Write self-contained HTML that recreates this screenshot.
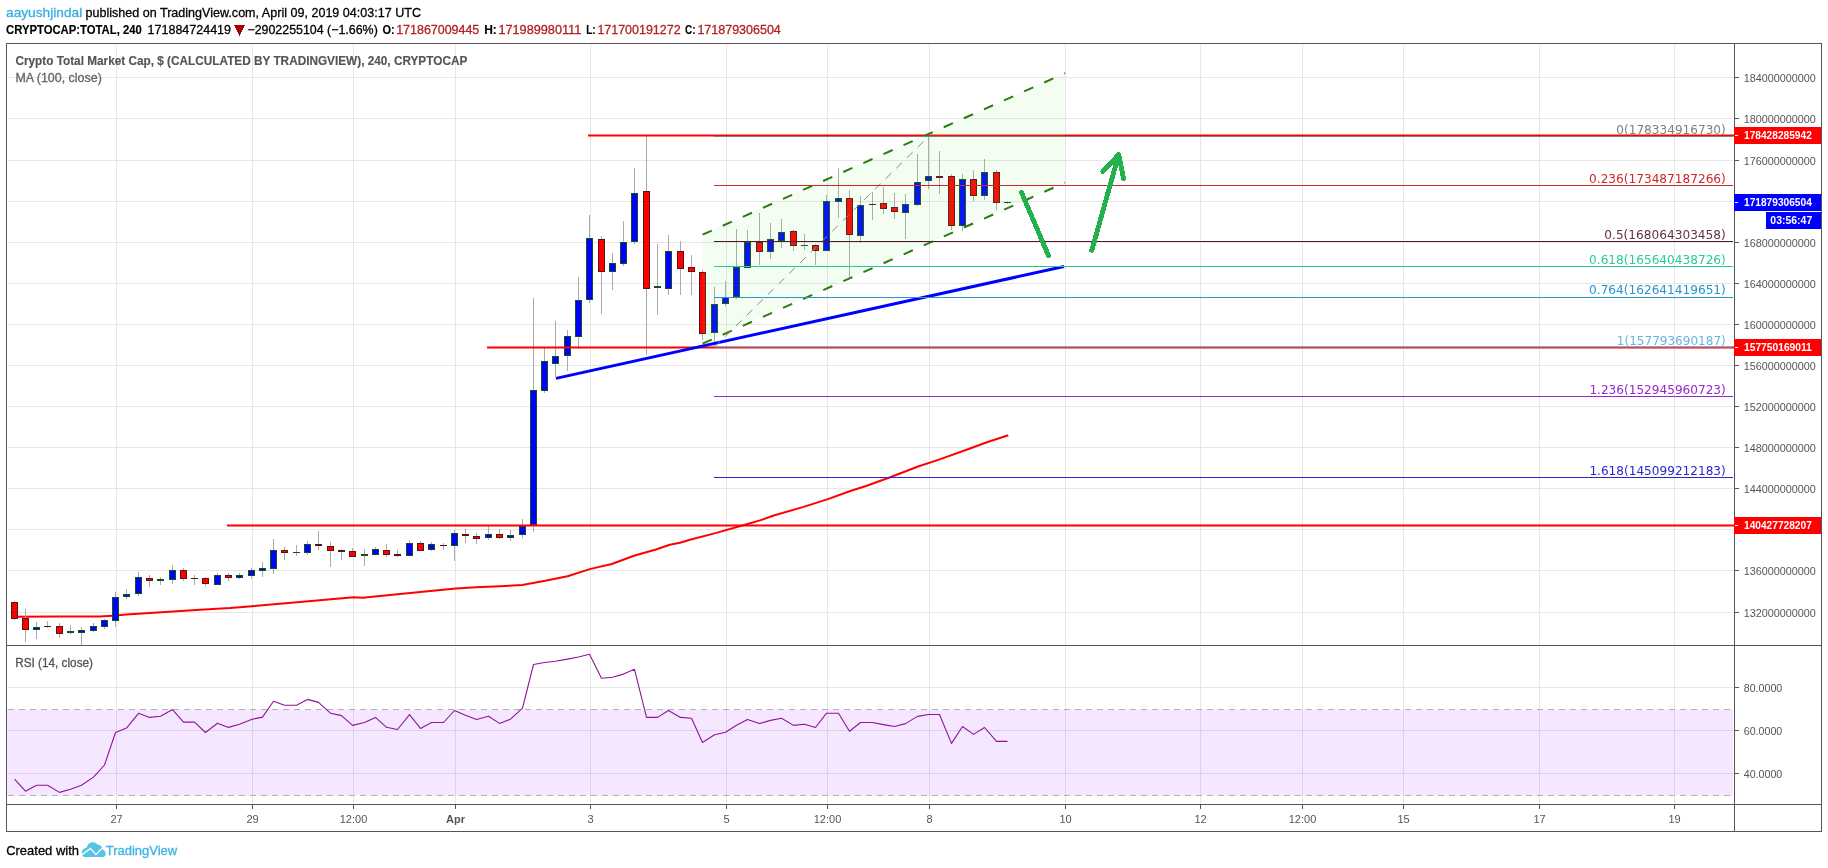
<!DOCTYPE html>
<html lang="en"><head><meta charset="utf-8"><title>CRYPTOCAP:TOTAL 240 - TradingView snapshot</title>
<style>html,body{margin:0;padding:0;background:#fff}body{width:1828px;height:868px;overflow:hidden}svg{display:block;will-change:transform}text{font-family:"Liberation Sans", Arial, sans-serif;white-space:pre}.ax{font-size:11px;fill:#555555}.lb{font-size:11px;font-weight:bold;fill:#fff}.fib{font-family:"DejaVu Sans", Verdana, "Liberation Sans", sans-serif;font-size:12px}.hd{font-size:13px;fill:#000;stroke:#000;stroke-width:.3px}.b{font-weight:bold;stroke-width:.15px}.rd{fill:#b22222;stroke:#b22222}.h1{font-size:13.5px}.h2{font-size:12.5px}.lg{font-size:12px}</style></head><body>
<svg width="1828" height="868" viewBox="0 0 1828 868">
<rect width="1828" height="868" fill="#ffffff"/>
<text x="6.0" y="17.0" class="hd h1" textLength="76.3" lengthAdjust="spacingAndGlyphs" style="fill:#37aee2;stroke:#37aee2">aayushjindal</text>
<text x="85.5" y="17.0" class="hd h1" textLength="335.5" lengthAdjust="spacingAndGlyphs">published on TradingView.com, April 09, 2019 04:03:17 UTC</text>
<text x="6.0" y="33.6" class="hd b h2" textLength="135.8" lengthAdjust="spacingAndGlyphs">CRYPTOCAP:TOTAL, 240</text>
<text x="147.6" y="33.6" class="hd h2" textLength="83.4" lengthAdjust="spacingAndGlyphs">171884724419</text>
<path d="M234 25H245L239.5 36Z" fill="#aa0000" shape-rendering="crispEdges"/>
<text x="247.4" y="33.6" class="hd h2" textLength="130.4" lengthAdjust="spacingAndGlyphs">−2902255104 (−1.66%)</text>
<text x="382.4" y="33.6" class="hd b h2" textLength="12.2" lengthAdjust="spacingAndGlyphs">O:</text>
<text x="396.2" y="33.6" class="hd rd h2" textLength="83.1" lengthAdjust="spacingAndGlyphs">171867009445</text>
<text x="484.2" y="33.6" class="hd b h2" textLength="12.6" lengthAdjust="spacingAndGlyphs">H:</text>
<text x="498.4" y="33.6" class="hd rd h2" textLength="82.9" lengthAdjust="spacingAndGlyphs">171989980111</text>
<text x="586.2" y="33.6" class="hd b h2" textLength="9.5" lengthAdjust="spacingAndGlyphs">L:</text>
<text x="597.4" y="33.6" class="hd rd h2" textLength="83.2" lengthAdjust="spacingAndGlyphs">171700191272</text>
<text x="685.0" y="33.6" class="hd b h2" textLength="10.5" lengthAdjust="spacingAndGlyphs">C:</text>
<text x="697.4" y="33.6" class="hd rd h2" textLength="83.4" lengthAdjust="spacingAndGlyphs">171879306504</text>
<g stroke="#e6e6e6" stroke-width="1" shape-rendering="crispEdges">
<line x1="116.5" y1="45" x2="116.5" y2="645"/>
<line x1="116.5" y1="647" x2="116.5" y2="804"/>
<line x1="252.5" y1="45" x2="252.5" y2="645"/>
<line x1="252.5" y1="647" x2="252.5" y2="804"/>
<line x1="353.5" y1="45" x2="353.5" y2="645"/>
<line x1="353.5" y1="647" x2="353.5" y2="804"/>
<line x1="455.5" y1="45" x2="455.5" y2="645"/>
<line x1="455.5" y1="647" x2="455.5" y2="804"/>
<line x1="590.5" y1="45" x2="590.5" y2="645"/>
<line x1="590.5" y1="647" x2="590.5" y2="804"/>
<line x1="726.5" y1="45" x2="726.5" y2="645"/>
<line x1="726.5" y1="647" x2="726.5" y2="804"/>
<line x1="827.5" y1="45" x2="827.5" y2="645"/>
<line x1="827.5" y1="647" x2="827.5" y2="804"/>
<line x1="929.5" y1="45" x2="929.5" y2="645"/>
<line x1="929.5" y1="647" x2="929.5" y2="804"/>
<line x1="1065.5" y1="45" x2="1065.5" y2="645"/>
<line x1="1065.5" y1="647" x2="1065.5" y2="804"/>
<line x1="1200.5" y1="45" x2="1200.5" y2="645"/>
<line x1="1200.5" y1="647" x2="1200.5" y2="804"/>
<line x1="1302.5" y1="45" x2="1302.5" y2="645"/>
<line x1="1302.5" y1="647" x2="1302.5" y2="804"/>
<line x1="1403.5" y1="45" x2="1403.5" y2="645"/>
<line x1="1403.5" y1="647" x2="1403.5" y2="804"/>
<line x1="1539.5" y1="45" x2="1539.5" y2="645"/>
<line x1="1539.5" y1="647" x2="1539.5" y2="804"/>
<line x1="1674.5" y1="45" x2="1674.5" y2="645"/>
<line x1="1674.5" y1="647" x2="1674.5" y2="804"/>
<line x1="8" y1="77.5" x2="1733" y2="77.5"/>
<line x1="8" y1="118.5" x2="1733" y2="118.5"/>
<line x1="8" y1="160.5" x2="1733" y2="160.5"/>
<line x1="8" y1="201.5" x2="1733" y2="201.5"/>
<line x1="8" y1="242.5" x2="1733" y2="242.5"/>
<line x1="8" y1="283.5" x2="1733" y2="283.5"/>
<line x1="8" y1="324.5" x2="1733" y2="324.5"/>
<line x1="8" y1="365.5" x2="1733" y2="365.5"/>
<line x1="8" y1="406.5" x2="1733" y2="406.5"/>
<line x1="8" y1="447.5" x2="1733" y2="447.5"/>
<line x1="8" y1="488.5" x2="1733" y2="488.5"/>
<line x1="8" y1="529.5" x2="1733" y2="529.5"/>
<line x1="8" y1="570.5" x2="1733" y2="570.5"/>
<line x1="8" y1="612.5" x2="1733" y2="612.5"/>
<line x1="8" y1="687.5" x2="1733" y2="687.5"/>
<line x1="8" y1="730.5" x2="1733" y2="730.5"/>
<line x1="8" y1="773.5" x2="1733" y2="773.5"/>
</g>
<polyline points="14.5,616.7 60.0,616.6 100.0,616.5 116.0,615.4 126.0,614.5 150.0,613.0 200.0,609.8 230.0,608.1 252.0,606.2 300.0,602.0 353.7,597.2 362.7,597.7 400.0,594.0 455.8,588.5 476.0,587.2 500.0,586.2 522.0,585.0 544.0,581.0 567.5,576.2 590.6,568.9 611.8,564.0 633.9,555.7 656.0,549.5 669.8,544.7 680.0,542.8 690.0,539.8 715.3,533.1 741.4,525.7 760.0,520.4 773.0,515.8 802.8,507.1 827.9,499.1 851.1,490.7 866.0,486.0 890.2,477.3 918.1,466.5 940.4,459.1 966.5,449.8 986.9,442.3 1008.3,435.3" fill="none" stroke="#ff0000" stroke-width="2" stroke-linejoin="round"/>
<g shape-rendering="crispEdges">
<g stroke="#aaaaaa" stroke-width="1">
<line x1="14.5" y1="601" x2="14.5" y2="620"/>
<line x1="25.5" y1="609" x2="25.5" y2="642"/>
<line x1="36.5" y1="622" x2="36.5" y2="639"/>
<line x1="47.5" y1="621" x2="47.5" y2="628"/>
<line x1="59.5" y1="623" x2="59.5" y2="638"/>
<line x1="70.5" y1="625" x2="70.5" y2="634"/>
<line x1="81.5" y1="627" x2="81.5" y2="645"/>
<line x1="93.5" y1="623" x2="93.5" y2="632"/>
<line x1="104.5" y1="619" x2="104.5" y2="629"/>
<line x1="115.5" y1="592" x2="115.5" y2="627"/>
<line x1="126.5" y1="589" x2="126.5" y2="599"/>
<line x1="138.5" y1="572" x2="138.5" y2="596"/>
<line x1="149.5" y1="575" x2="149.5" y2="587"/>
<line x1="160.5" y1="577" x2="160.5" y2="585"/>
<line x1="172.5" y1="565" x2="172.5" y2="584"/>
<line x1="183.5" y1="568" x2="183.5" y2="581"/>
<line x1="194.5" y1="575" x2="194.5" y2="585"/>
<line x1="205.5" y1="577" x2="205.5" y2="586"/>
<line x1="217.5" y1="573" x2="217.5" y2="585"/>
<line x1="228.5" y1="573" x2="228.5" y2="581"/>
<line x1="239.5" y1="573" x2="239.5" y2="579"/>
<line x1="251.5" y1="568" x2="251.5" y2="579"/>
<line x1="262.5" y1="562" x2="262.5" y2="577"/>
<line x1="273.5" y1="539" x2="273.5" y2="574"/>
<line x1="284.5" y1="547" x2="284.5" y2="560"/>
<line x1="296.5" y1="545" x2="296.5" y2="556"/>
<line x1="307.5" y1="541" x2="307.5" y2="555"/>
<line x1="318.5" y1="531" x2="318.5" y2="550"/>
<line x1="330.5" y1="542" x2="330.5" y2="567"/>
<line x1="341.5" y1="549" x2="341.5" y2="560"/>
<line x1="352.5" y1="548" x2="352.5" y2="557"/>
<line x1="364.5" y1="549" x2="364.5" y2="566"/>
<line x1="375.5" y1="547" x2="375.5" y2="555"/>
<line x1="386.5" y1="544" x2="386.5" y2="557"/>
<line x1="397.5" y1="550" x2="397.5" y2="557"/>
<line x1="409.5" y1="540" x2="409.5" y2="556"/>
<line x1="420.5" y1="541" x2="420.5" y2="551"/>
<line x1="431.5" y1="542" x2="431.5" y2="551"/>
<line x1="443.5" y1="543" x2="443.5" y2="550"/>
<line x1="454.5" y1="530" x2="454.5" y2="561"/>
<line x1="465.5" y1="529" x2="465.5" y2="543"/>
<line x1="476.5" y1="533" x2="476.5" y2="544"/>
<line x1="488.5" y1="526" x2="488.5" y2="540"/>
<line x1="499.5" y1="529" x2="499.5" y2="539"/>
<line x1="510.5" y1="530" x2="510.5" y2="541"/>
<line x1="522.5" y1="519" x2="522.5" y2="538"/>
<line x1="533.5" y1="298" x2="533.5" y2="532"/>
<line x1="544.5" y1="348" x2="544.5" y2="393"/>
<line x1="555.5" y1="321" x2="555.5" y2="377"/>
<line x1="567.5" y1="330" x2="567.5" y2="371"/>
<line x1="578.5" y1="277" x2="578.5" y2="349"/>
<line x1="589.5" y1="215" x2="589.5" y2="303"/>
<line x1="601.5" y1="236" x2="601.5" y2="314"/>
<line x1="612.5" y1="253" x2="612.5" y2="290"/>
<line x1="623.5" y1="221" x2="623.5" y2="266"/>
<line x1="634.5" y1="168" x2="634.5" y2="244"/>
<line x1="646.5" y1="136" x2="646.5" y2="355"/>
<line x1="657.5" y1="244" x2="657.5" y2="315"/>
<line x1="668.5" y1="235" x2="668.5" y2="295"/>
<line x1="680.5" y1="241" x2="680.5" y2="295"/>
<line x1="691.5" y1="255" x2="691.5" y2="295"/>
<line x1="702.5" y1="270" x2="702.5" y2="340"/>
<line x1="714.5" y1="287" x2="714.5" y2="346"/>
<line x1="725.5" y1="281" x2="725.5" y2="306"/>
<line x1="736.5" y1="229" x2="736.5" y2="299"/>
<line x1="747.5" y1="230" x2="747.5" y2="268"/>
<line x1="759.5" y1="213" x2="759.5" y2="265"/>
<line x1="770.5" y1="223" x2="770.5" y2="259"/>
<line x1="781.5" y1="219" x2="781.5" y2="248"/>
<line x1="793.5" y1="230" x2="793.5" y2="251"/>
<line x1="804.5" y1="234" x2="804.5" y2="250"/>
<line x1="815.5" y1="244" x2="815.5" y2="265"/>
<line x1="826.5" y1="195" x2="826.5" y2="251"/>
<line x1="838.5" y1="168" x2="838.5" y2="218"/>
<line x1="849.5" y1="190" x2="849.5" y2="278"/>
<line x1="860.5" y1="196" x2="860.5" y2="243"/>
<line x1="872.5" y1="192" x2="872.5" y2="220"/>
<line x1="883.5" y1="187" x2="883.5" y2="214"/>
<line x1="894.5" y1="193" x2="894.5" y2="219"/>
<line x1="905.5" y1="194" x2="905.5" y2="239"/>
<line x1="917.5" y1="154" x2="917.5" y2="206"/>
<line x1="928.5" y1="137" x2="928.5" y2="189"/>
<line x1="939.5" y1="151" x2="939.5" y2="194"/>
<line x1="951.5" y1="174" x2="951.5" y2="230"/>
<line x1="962.5" y1="174" x2="962.5" y2="231"/>
<line x1="973.5" y1="170" x2="973.5" y2="201"/>
<line x1="984.5" y1="159" x2="984.5" y2="200"/>
<line x1="996.5" y1="170" x2="996.5" y2="210"/>
<line x1="1007.5" y1="201" x2="1007.5" y2="204"/>
</g>
<rect x="11.5" y="602.5" width="6" height="16" fill="#ff0000" stroke="#5b1212" stroke-width="1"/>
<rect x="22.5" y="618.5" width="6" height="11" fill="#ff0000" stroke="#5b1212" stroke-width="1"/>
<rect x="33.5" y="627.5" width="6" height="2" fill="#0000ff" stroke="#14501e" stroke-width="1"/>
<rect x="44.0" y="626" width="7" height="1" fill="#5b1212"/>
<rect x="56.5" y="626.5" width="6" height="7" fill="#ff0000" stroke="#5b1212" stroke-width="1"/>
<rect x="67.0" y="631" width="7" height="2" fill="#14501e"/>
<rect x="78.5" y="630.5" width="6" height="2" fill="#0000ff" stroke="#14501e" stroke-width="1"/>
<rect x="90.5" y="626.5" width="6" height="4" fill="#0000ff" stroke="#14501e" stroke-width="1"/>
<rect x="101.5" y="620.5" width="6" height="6" fill="#0000ff" stroke="#14501e" stroke-width="1"/>
<rect x="112.5" y="597.5" width="6" height="23" fill="#0000ff" stroke="#14501e" stroke-width="1"/>
<rect x="123.5" y="594.5" width="6" height="2" fill="#0000ff" stroke="#14501e" stroke-width="1"/>
<rect x="135.5" y="577.5" width="6" height="16" fill="#0000ff" stroke="#14501e" stroke-width="1"/>
<rect x="146.5" y="578.5" width="6" height="2" fill="#ff0000" stroke="#5b1212" stroke-width="1"/>
<rect x="157.0" y="579" width="7" height="2" fill="#14501e"/>
<rect x="169.5" y="570.5" width="6" height="9" fill="#0000ff" stroke="#14501e" stroke-width="1"/>
<rect x="180.5" y="570.5" width="6" height="8" fill="#ff0000" stroke="#5b1212" stroke-width="1"/>
<rect x="191.0" y="578" width="7" height="1" fill="#5b1212"/>
<rect x="202.5" y="578.5" width="6" height="5" fill="#ff0000" stroke="#5b1212" stroke-width="1"/>
<rect x="214.5" y="575.5" width="6" height="9" fill="#0000ff" stroke="#14501e" stroke-width="1"/>
<rect x="225.5" y="575.5" width="6" height="2" fill="#ff0000" stroke="#5b1212" stroke-width="1"/>
<rect x="236.5" y="575.5" width="6" height="2" fill="#0000ff" stroke="#14501e" stroke-width="1"/>
<rect x="248.5" y="570.5" width="6" height="5" fill="#0000ff" stroke="#14501e" stroke-width="1"/>
<rect x="259.5" y="568.5" width="6" height="2" fill="#0000ff" stroke="#14501e" stroke-width="1"/>
<rect x="270.5" y="550.5" width="6" height="18" fill="#0000ff" stroke="#14501e" stroke-width="1"/>
<rect x="281.5" y="550.5" width="6" height="2" fill="#ff0000" stroke="#5b1212" stroke-width="1"/>
<rect x="293.0" y="552" width="7" height="1" fill="#14501e"/>
<rect x="304.5" y="544.5" width="6" height="8" fill="#0000ff" stroke="#14501e" stroke-width="1"/>
<rect x="315.0" y="544" width="7" height="2" fill="#5b1212"/>
<rect x="327.5" y="546.5" width="6" height="4" fill="#ff0000" stroke="#5b1212" stroke-width="1"/>
<rect x="338.0" y="550" width="7" height="2" fill="#5b1212"/>
<rect x="349.5" y="551.5" width="6" height="5" fill="#ff0000" stroke="#5b1212" stroke-width="1"/>
<rect x="361.0" y="554" width="7" height="2" fill="#14501e"/>
<rect x="372.5" y="549.5" width="6" height="5" fill="#0000ff" stroke="#14501e" stroke-width="1"/>
<rect x="383.5" y="550.5" width="6" height="4" fill="#ff0000" stroke="#5b1212" stroke-width="1"/>
<rect x="394.0" y="554" width="7" height="2" fill="#5b1212"/>
<rect x="406.5" y="543.5" width="6" height="12" fill="#0000ff" stroke="#14501e" stroke-width="1"/>
<rect x="417.5" y="543.5" width="6" height="7" fill="#ff0000" stroke="#5b1212" stroke-width="1"/>
<rect x="428.5" y="544.5" width="6" height="5" fill="#0000ff" stroke="#14501e" stroke-width="1"/>
<rect x="440.0" y="545" width="7" height="1" fill="#5b1212"/>
<rect x="451.5" y="533.5" width="6" height="12" fill="#0000ff" stroke="#14501e" stroke-width="1"/>
<rect x="462.0" y="534" width="7" height="2" fill="#5b1212"/>
<rect x="473.5" y="536.5" width="6" height="2" fill="#ff0000" stroke="#5b1212" stroke-width="1"/>
<rect x="485.5" y="534.5" width="6" height="3" fill="#0000ff" stroke="#14501e" stroke-width="1"/>
<rect x="496.5" y="534.5" width="6" height="3" fill="#ff0000" stroke="#5b1212" stroke-width="1"/>
<rect x="507.5" y="535.5" width="6" height="2" fill="#0000ff" stroke="#14501e" stroke-width="1"/>
<rect x="519.5" y="526.5" width="6" height="8" fill="#0000ff" stroke="#14501e" stroke-width="1"/>
<rect x="530.5" y="390.5" width="6" height="134" fill="#0000ff" stroke="#14501e" stroke-width="1"/>
<rect x="541.5" y="361.5" width="6" height="29" fill="#0000ff" stroke="#14501e" stroke-width="1"/>
<rect x="552.5" y="356.5" width="6" height="7" fill="#0000ff" stroke="#14501e" stroke-width="1"/>
<rect x="564.5" y="336.5" width="6" height="19" fill="#0000ff" stroke="#14501e" stroke-width="1"/>
<rect x="575.5" y="300.5" width="6" height="36" fill="#0000ff" stroke="#14501e" stroke-width="1"/>
<rect x="586.5" y="238.5" width="6" height="61" fill="#0000ff" stroke="#14501e" stroke-width="1"/>
<rect x="598.5" y="239.5" width="6" height="32" fill="#ff0000" stroke="#5b1212" stroke-width="1"/>
<rect x="609.5" y="263.5" width="6" height="8" fill="#0000ff" stroke="#14501e" stroke-width="1"/>
<rect x="620.5" y="242.5" width="6" height="21" fill="#0000ff" stroke="#14501e" stroke-width="1"/>
<rect x="631.5" y="193.5" width="6" height="48" fill="#0000ff" stroke="#14501e" stroke-width="1"/>
<rect x="643.5" y="191.5" width="6" height="97" fill="#ff0000" stroke="#5b1212" stroke-width="1"/>
<rect x="654.0" y="286" width="7" height="2" fill="#14501e"/>
<rect x="665.5" y="251.5" width="6" height="37" fill="#0000ff" stroke="#14501e" stroke-width="1"/>
<rect x="677.5" y="251.5" width="6" height="17" fill="#ff0000" stroke="#5b1212" stroke-width="1"/>
<rect x="688.5" y="267.5" width="6" height="4" fill="#ff0000" stroke="#5b1212" stroke-width="1"/>
<rect x="699.5" y="272.5" width="6" height="61" fill="#ff0000" stroke="#5b1212" stroke-width="1"/>
<rect x="711.5" y="304.5" width="6" height="28" fill="#0000ff" stroke="#14501e" stroke-width="1"/>
<rect x="722.5" y="297.5" width="6" height="6" fill="#0000ff" stroke="#14501e" stroke-width="1"/>
<rect x="733.5" y="267.5" width="6" height="29" fill="#0000ff" stroke="#14501e" stroke-width="1"/>
<rect x="744.5" y="242.5" width="6" height="25" fill="#0000ff" stroke="#14501e" stroke-width="1"/>
<rect x="756.5" y="242.5" width="6" height="9" fill="#ff0000" stroke="#5b1212" stroke-width="1"/>
<rect x="767.5" y="239.5" width="6" height="12" fill="#0000ff" stroke="#14501e" stroke-width="1"/>
<rect x="778.5" y="232.5" width="6" height="8" fill="#0000ff" stroke="#14501e" stroke-width="1"/>
<rect x="790.5" y="231.5" width="6" height="14" fill="#ff0000" stroke="#5b1212" stroke-width="1"/>
<rect x="801.0" y="245" width="7" height="1" fill="#14501e"/>
<rect x="812.5" y="245.5" width="6" height="5" fill="#ff0000" stroke="#5b1212" stroke-width="1"/>
<rect x="823.5" y="201.5" width="6" height="49" fill="#0000ff" stroke="#14501e" stroke-width="1"/>
<rect x="835.5" y="198.5" width="6" height="3" fill="#0000ff" stroke="#14501e" stroke-width="1"/>
<rect x="846.5" y="198.5" width="6" height="36" fill="#ff0000" stroke="#5b1212" stroke-width="1"/>
<rect x="857.5" y="205.5" width="6" height="30" fill="#0000ff" stroke="#14501e" stroke-width="1"/>
<rect x="869.0" y="204" width="7" height="1" fill="#5b1212"/>
<rect x="880.5" y="203.5" width="6" height="5" fill="#ff0000" stroke="#5b1212" stroke-width="1"/>
<rect x="891.5" y="207.5" width="6" height="4" fill="#ff0000" stroke="#5b1212" stroke-width="1"/>
<rect x="902.5" y="204.5" width="6" height="8" fill="#0000ff" stroke="#14501e" stroke-width="1"/>
<rect x="914.5" y="182.5" width="6" height="22" fill="#0000ff" stroke="#14501e" stroke-width="1"/>
<rect x="925.5" y="176.5" width="6" height="4" fill="#0000ff" stroke="#14501e" stroke-width="1"/>
<rect x="936.0" y="176" width="7" height="2" fill="#5b1212"/>
<rect x="948.5" y="176.5" width="6" height="49" fill="#ff0000" stroke="#5b1212" stroke-width="1"/>
<rect x="959.5" y="179.5" width="6" height="46" fill="#0000ff" stroke="#14501e" stroke-width="1"/>
<rect x="970.5" y="179.5" width="6" height="16" fill="#ff0000" stroke="#5b1212" stroke-width="1"/>
<rect x="981.5" y="172.5" width="6" height="23" fill="#0000ff" stroke="#14501e" stroke-width="1"/>
<rect x="993.5" y="172.5" width="6" height="30" fill="#ff0000" stroke="#5b1212" stroke-width="1"/>
<rect x="1004.0" y="202" width="7" height="1" fill="#14501e"/>
</g>

<g stroke="#ff0000" stroke-width="2">
<line x1="588" y1="135.5" x2="1734" y2="135.5"/>
<line x1="487" y1="347.5" x2="1734" y2="347.5"/>
<line x1="227" y1="525.5" x2="1734" y2="525.5"/>
</g>
<polygon points="702.5,234.2 1065,72.7 1065,182.1 702.5,343.2" fill="#78e664" fill-opacity="0.09"/>
<g stroke="#2d7a14" stroke-width="2" stroke-dasharray="10 12" fill="none">
<line x1="702.6" y1="234.7" x2="1065" y2="73.2"/>
<line x1="702.6" y1="343.7" x2="1065" y2="182.6"/>
</g>
<line x1="556" y1="378.4" x2="1064" y2="266.5" stroke="#0000ff" stroke-width="3"/>
<line x1="714.5" y1="347" x2="929.5" y2="135.6" stroke="#8c8c8c" stroke-width="1" stroke-dasharray="8 7"/>
<line x1="714" y1="136.5" x2="1733" y2="136.5" stroke="#808080" stroke-width="1" shape-rendering="crispEdges"/>
<text x="1616.3" y="133.6" class="fib" fill="#808080" textLength="109.5" lengthAdjust="spacingAndGlyphs">0(178334916730)</text>
<line x1="714" y1="185.5" x2="1733" y2="185.5" stroke="#cc2828" stroke-width="1" shape-rendering="crispEdges"/>
<text x="1589.1" y="182.6" class="fib" fill="#cc2828" textLength="136.7" lengthAdjust="spacingAndGlyphs">0.236(173487187266)</text>
<line x1="714" y1="241.5" x2="1733" y2="241.5" stroke="#4f1a30" stroke-width="1" shape-rendering="crispEdges"/>
<text x="1604.3" y="238.6" class="fib" fill="#63304a" textLength="121.5" lengthAdjust="spacingAndGlyphs">0.5(168064303458)</text>
<line x1="714" y1="266.5" x2="1733" y2="266.5" stroke="#28cc95" stroke-width="1" shape-rendering="crispEdges"/>
<text x="1589.1" y="263.6" class="fib" fill="#28cc95" textLength="136.7" lengthAdjust="spacingAndGlyphs">0.618(165640438726)</text>
<line x1="714" y1="297.3" x2="1733" y2="297.3" stroke="#2895cc" stroke-width="1" shape-rendering="crispEdges"/>
<text x="1589.1" y="294.4" class="fib" fill="#2895cc" textLength="136.7" lengthAdjust="spacingAndGlyphs">0.764(162641419651)</text>
<line x1="714" y1="347.5" x2="1733" y2="347.5" stroke="#5874a4" stroke-width="1" shape-rendering="crispEdges"/>
<text x="1616.8" y="345.1" class="fib" fill="#6ab4dc" textLength="109.0" lengthAdjust="spacingAndGlyphs">1(157793690187)</text>
<line x1="714" y1="396.5" x2="1733" y2="396.5" stroke="#9528cc" stroke-width="1" shape-rendering="crispEdges"/>
<text x="1589.4" y="393.6" class="fib" fill="#9528cc" textLength="136.4" lengthAdjust="spacingAndGlyphs">1.236(152945960723)</text>
<line x1="714" y1="477.5" x2="1733" y2="477.5" stroke="#2828cc" stroke-width="1" shape-rendering="crispEdges"/>
<text x="1589.4" y="474.6" class="fib" fill="#2828cc" textLength="136.4" lengthAdjust="spacingAndGlyphs">1.618(145099212183)</text>
<g stroke="#22b14c" stroke-width="4.9" fill="none" stroke-linecap="round" stroke-linejoin="round" shape-rendering="crispEdges">
<path d="M1021.5 192.4 L1048.4 255.4"/>
<path d="M1091.8 250.4 L1118.7 154.6"/>
<path d="M1102.9 171.6 L1118.7 154.6 L1123.5 178.4"/>
</g>
<rect x="7" y="709.5" width="1726" height="86" fill="#9915ff" fill-opacity="0.1"/>
<g stroke="#b0b0b0" stroke-width="1" stroke-dasharray="6 5" shape-rendering="crispEdges">
<line x1="8" y1="709.5" x2="1733" y2="709.5"/>
<line x1="8" y1="795.5" x2="1733" y2="795.5"/>
</g>
<polyline points="14.5,779.2 25.5,791.2 36.5,785.3 47.5,785.3 59.5,792.4 70.5,789.2 81.5,785.3 93.5,777.1 104.5,765.0 115.5,732.5 126.5,728.1 138.5,713.3 149.5,717.4 160.5,716.2 172.5,709.6 183.5,722.1 194.5,722.1 205.5,732.5 217.5,723.2 228.5,727.4 239.5,724.3 251.5,719.4 262.5,717.1 273.5,701.2 284.5,705.3 296.5,705.3 307.5,699.4 318.5,702.4 330.5,713.2 341.5,715.6 352.5,725.4 364.5,722.5 375.5,717.4 386.5,727.3 397.5,729.5 409.5,714.6 420.5,728.4 431.5,722.5 443.5,722.5 454.5,710.5 465.5,715.3 476.5,719.5 488.5,716.3 499.5,723.4 510.5,719.2 522.5,708.2 533.5,664.5 544.5,662.5 555.5,661.2 567.5,659.1 578.5,657.0 589.5,654.2 601.5,678.3 612.5,677.3 623.5,674.1 634.5,669.3 646.5,717.4 657.5,717.4 668.5,710.5 680.5,717.4 691.5,718.3 702.5,742.5 714.5,734.7 725.5,732.2 736.5,725.3 747.5,719.5 759.5,723.6 770.5,720.4 781.5,718.3 793.5,725.4 804.5,724.3 815.5,727.5 826.5,713.2 838.5,713.2 849.5,731.3 860.5,722.5 872.5,722.5 883.5,724.6 894.5,726.5 905.5,723.6 917.5,716.4 928.5,714.5 939.5,714.5 951.5,743.4 962.5,726.5 973.5,734.4 984.5,727.5 996.5,741.4 1007.5,741.4" fill="none" stroke="#8e1599" stroke-width="1.1" stroke-linejoin="round"/>
<g stroke="#555555" stroke-width="1" fill="none" shape-rendering="crispEdges">
<rect x="6.5" y="43.5" width="1815.0" height="788.0"/>
<line x1="1734.5" y1="43.5" x2="1734.5" y2="831.5"/>
<line x1="6.5" y1="645.5" x2="1821.5" y2="645.5"/>
<line x1="6.5" y1="804.5" x2="1821.5" y2="804.5"/>
<line x1="1734.5" y1="77.5" x2="1739.0" y2="77.5"/>
<line x1="1734.5" y1="118.5" x2="1739.0" y2="118.5"/>
<line x1="1734.5" y1="160.5" x2="1739.0" y2="160.5"/>
<line x1="1734.5" y1="242.5" x2="1739.0" y2="242.5"/>
<line x1="1734.5" y1="283.5" x2="1739.0" y2="283.5"/>
<line x1="1734.5" y1="324.5" x2="1739.0" y2="324.5"/>
<line x1="1734.5" y1="365.5" x2="1739.0" y2="365.5"/>
<line x1="1734.5" y1="406.5" x2="1739.0" y2="406.5"/>
<line x1="1734.5" y1="447.5" x2="1739.0" y2="447.5"/>
<line x1="1734.5" y1="488.5" x2="1739.0" y2="488.5"/>
<line x1="1734.5" y1="570.5" x2="1739.0" y2="570.5"/>
<line x1="1734.5" y1="612.5" x2="1739.0" y2="612.5"/>
<line x1="1734.5" y1="687.5" x2="1739.0" y2="687.5"/>
<line x1="1734.5" y1="730.5" x2="1739.0" y2="730.5"/>
<line x1="1734.5" y1="773.5" x2="1739.0" y2="773.5"/>
<line x1="116.5" y1="804.5" x2="116.5" y2="808.5"/>
<line x1="252.5" y1="804.5" x2="252.5" y2="808.5"/>
<line x1="353.5" y1="804.5" x2="353.5" y2="808.5"/>
<line x1="455.5" y1="804.5" x2="455.5" y2="808.5"/>
<line x1="590.5" y1="804.5" x2="590.5" y2="808.5"/>
<line x1="726.5" y1="804.5" x2="726.5" y2="808.5"/>
<line x1="827.5" y1="804.5" x2="827.5" y2="808.5"/>
<line x1="929.5" y1="804.5" x2="929.5" y2="808.5"/>
<line x1="1065.5" y1="804.5" x2="1065.5" y2="808.5"/>
<line x1="1200.5" y1="804.5" x2="1200.5" y2="808.5"/>
<line x1="1302.5" y1="804.5" x2="1302.5" y2="808.5"/>
<line x1="1403.5" y1="804.5" x2="1403.5" y2="808.5"/>
<line x1="1539.5" y1="804.5" x2="1539.5" y2="808.5"/>
<line x1="1674.5" y1="804.5" x2="1674.5" y2="808.5"/>
</g>
<text x="1743.7" y="82.0" class="ax" textLength="72.2" lengthAdjust="spacingAndGlyphs">184000000000</text>
<text x="1743.7" y="123.0" class="ax" textLength="72.2" lengthAdjust="spacingAndGlyphs">180000000000</text>
<text x="1743.7" y="165.0" class="ax" textLength="72.2" lengthAdjust="spacingAndGlyphs">176000000000</text>
<text x="1743.7" y="247.0" class="ax" textLength="72.2" lengthAdjust="spacingAndGlyphs">168000000000</text>
<text x="1743.7" y="288.0" class="ax" textLength="72.2" lengthAdjust="spacingAndGlyphs">164000000000</text>
<text x="1743.7" y="329.0" class="ax" textLength="72.2" lengthAdjust="spacingAndGlyphs">160000000000</text>
<text x="1743.7" y="370.0" class="ax" textLength="72.2" lengthAdjust="spacingAndGlyphs">156000000000</text>
<text x="1743.7" y="411.0" class="ax" textLength="72.2" lengthAdjust="spacingAndGlyphs">152000000000</text>
<text x="1743.7" y="452.0" class="ax" textLength="72.2" lengthAdjust="spacingAndGlyphs">148000000000</text>
<text x="1743.7" y="493.0" class="ax" textLength="72.2" lengthAdjust="spacingAndGlyphs">144000000000</text>
<text x="1743.7" y="575.0" class="ax" textLength="72.2" lengthAdjust="spacingAndGlyphs">136000000000</text>
<text x="1743.7" y="617.0" class="ax" textLength="72.2" lengthAdjust="spacingAndGlyphs">132000000000</text>
<text x="1743.7" y="692.0" class="ax" textLength="38.6" lengthAdjust="spacingAndGlyphs">80.0000</text>
<text x="1743.7" y="735.0" class="ax" textLength="38.6" lengthAdjust="spacingAndGlyphs">60.0000</text>
<text x="1743.7" y="778.0" class="ax" textLength="38.6" lengthAdjust="spacingAndGlyphs">40.0000</text>
<text x="116.5" y="823" class="ax" text-anchor="middle">27</text>
<text x="252.5" y="823" class="ax" text-anchor="middle">29</text>
<text x="353.5" y="823" class="ax" text-anchor="middle">12:00</text>
<text x="455.5" y="823" class="ax" text-anchor="middle" style="font-weight:bold">Apr</text>
<text x="590.5" y="823" class="ax" text-anchor="middle">3</text>
<text x="726.5" y="823" class="ax" text-anchor="middle">5</text>
<text x="827.5" y="823" class="ax" text-anchor="middle">12:00</text>
<text x="929.5" y="823" class="ax" text-anchor="middle">8</text>
<text x="1065.5" y="823" class="ax" text-anchor="middle">10</text>
<text x="1200.5" y="823" class="ax" text-anchor="middle">12</text>
<text x="1302.5" y="823" class="ax" text-anchor="middle">12:00</text>
<text x="1403.5" y="823" class="ax" text-anchor="middle">15</text>
<text x="1539.5" y="823" class="ax" text-anchor="middle">17</text>
<text x="1674.5" y="823" class="ax" text-anchor="middle">19</text>
<!--PLABELS-->
<rect x="1734.0" y="127" width="87.0" height="17" fill="#ff0000" shape-rendering="crispEdges"/>
<rect x="1735" y="135" width="3" height="1" fill="#fff" shape-rendering="crispEdges"/>
<text x="1744.0" y="138.7" class="lb" textLength="67.8" lengthAdjust="spacingAndGlyphs">178428285942</text>
<rect x="1734.0" y="194" width="87.0" height="17" fill="#0000ff" shape-rendering="crispEdges"/>
<rect x="1735" y="202" width="3" height="1" fill="#fff" shape-rendering="crispEdges"/>
<text x="1744.0" y="205.7" class="lb" textLength="67.8" lengthAdjust="spacingAndGlyphs">171879306504</text>
<rect x="1766.0" y="212" width="55.0" height="17" fill="#0000ff" shape-rendering="crispEdges"/>
<text x="1770.3" y="223.7" class="lb" textLength="42.0" lengthAdjust="spacingAndGlyphs">03:56:47</text>
<rect x="1734.0" y="339" width="87.0" height="17" fill="#ff0000" shape-rendering="crispEdges"/>
<rect x="1735" y="347" width="3" height="1" fill="#fff" shape-rendering="crispEdges"/>
<text x="1744.0" y="350.7" class="lb" textLength="67.8" lengthAdjust="spacingAndGlyphs">157750169011</text>
<rect x="1734.0" y="517" width="87.0" height="17" fill="#ff0000" shape-rendering="crispEdges"/>
<rect x="1735" y="525" width="3" height="1" fill="#fff" shape-rendering="crispEdges"/>
<text x="1744.0" y="528.7" class="lb" textLength="67.8" lengthAdjust="spacingAndGlyphs">140427728207</text>
<text x="15.4" y="65.0" class="hd b lg" textLength="451.9" lengthAdjust="spacingAndGlyphs" style="fill:#555;stroke:#555">Crypto Total Market Cap, $ (CALCULATED BY TRADINGVIEW), 240, CRYPTOCAP</text>
<text x="15.4" y="82.0" class="hd lg" textLength="86.4" lengthAdjust="spacingAndGlyphs" style="fill:#666;stroke:#666">MA (100, close)</text>
<text x="15.2" y="667.0" class="hd lg" textLength="77.8" lengthAdjust="spacingAndGlyphs" style="fill:#555;stroke:#555">RSI (14, close)</text>
<text x="6.2" y="854.6" class="hd" textLength="72.8" lengthAdjust="spacingAndGlyphs">Created with</text>
<g>
<path d="M84.4 856.9 C82.9 856.9 81.8 855.2 81.8 852.6 C81.8 850.0 83.9 848.0 86.8 847.5 C87.3 844.4 89.8 842.2 93.0 842.2 C95.0 842.2 96.4 843.3 97.6 844.6 C99.6 845.0 101.3 845.9 102.3 847.5 L102.4 849.5 C104.3 850.4 105.7 851.9 105.7 853.7 C105.7 855.6 104.6 856.9 103.2 856.9 Z" fill="#58c3e6"/>
<path d="M81.3 855.2 L90.4 848.4 L96.0 854.6 L103.8 846.4" fill="none" stroke="#fff" stroke-width="1.35" stroke-linejoin="miter"/>
</g>
<text x="105.7" y="854.6" class="hd" textLength="71.5" lengthAdjust="spacingAndGlyphs" style="fill:#3bb3e4;stroke:#3bb3e4">TradingView</text>
</svg></body></html>
